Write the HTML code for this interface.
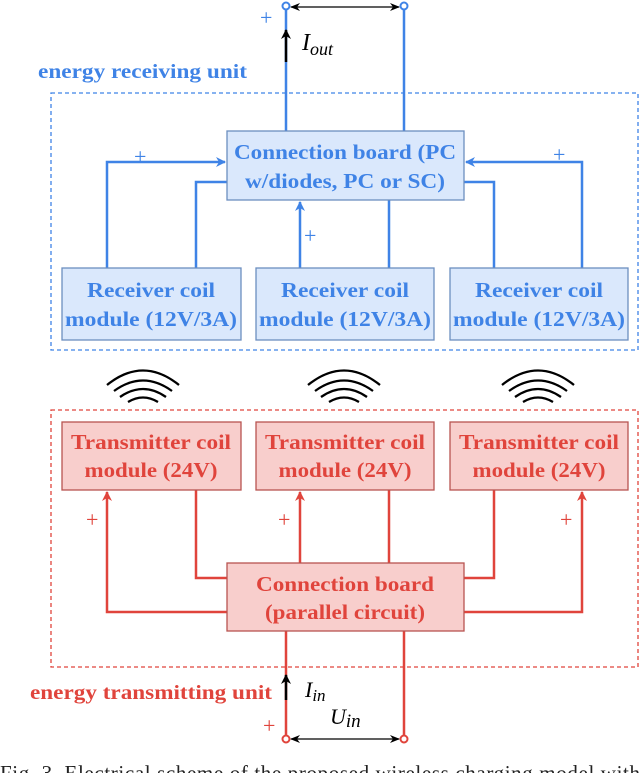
<!DOCTYPE html>
<html><head><meta charset="utf-8"><style>
html,body{margin:0;padding:0;background:#fff;}
body{width:640px;height:773px;overflow:hidden;position:relative;}
svg{position:absolute;left:0;top:0;}
text{font-family:"Liberation Serif",serif;}
</style></head><body>
<svg width="640" height="773" viewBox="0 0 640 773" xmlns="http://www.w3.org/2000/svg">
<defs>
<marker id="ab" markerWidth="10" markerHeight="10" refX="9" refY="5" orient="auto" markerUnits="userSpaceOnUse"><path d="M0,0 L10,5 L0,10 L3,5 z" fill="#3f83e6"/></marker>
<marker id="ar" markerWidth="10" markerHeight="10" refX="9" refY="5" orient="auto" markerUnits="userSpaceOnUse"><path d="M0,0 L10,5 L0,10 L3,5 z" fill="#e0443c"/></marker>
<marker id="ak" markerWidth="10" markerHeight="10" refX="9" refY="5" orient="auto" markerUnits="userSpaceOnUse"><path d="M0,0 L10,5 L0,10 L3,5 z" fill="#000"/></marker>
<marker id="aks" markerWidth="10" markerHeight="10" refX="9" refY="5" orient="auto-start-reverse" markerUnits="userSpaceOnUse"><path d="M0,1 L10,5 L0,9 L3,5 z" fill="#000"/></marker>
</defs>

<rect x="51" y="93" width="587" height="257" fill="none" stroke="#3f83e6" stroke-width="1.3" stroke-dasharray="4,3"/>
<text x="38" y="78" font-size="20" font-weight="bold" fill="#3f83e6" textLength="209" lengthAdjust="spacingAndGlyphs">energy receiving unit</text>
<g stroke="#3f83e6" stroke-width="2.5" fill="none">
<line x1="286" y1="131" x2="286" y2="6"/>
<line x1="404" y1="131" x2="404" y2="6"/>
<polyline points="107,268 107,162 225,162" marker-end="url(#ab)"/>
<polyline points="196,268 196,182 227,182"/>
<line x1="300" y1="268" x2="300" y2="202" marker-end="url(#ab)"/>
<line x1="389" y1="268" x2="389" y2="200"/>
<polyline points="582,268 582,162 466,162" marker-end="url(#ab)"/>
<polyline points="494,268 494,182 464,182"/>
</g>
<circle cx="286" cy="6" r="3.5" fill="#fff" stroke="#3f83e6" stroke-width="2"/>
<circle cx="404" cy="6" r="3.5" fill="#fff" stroke="#3f83e6" stroke-width="2"/>
<line x1="291" y1="7" x2="399" y2="7" stroke="#000" stroke-width="1.3" marker-start="url(#aks)" marker-end="url(#aks)"/>
<line x1="286" y1="62" x2="286" y2="30" stroke="#000" stroke-width="2.5" marker-end="url(#ak)"/>
<g font-size="22" fill="#3f83e6">
<text x="260" y="25">+</text>
<text x="134" y="164">+</text>
<text x="304" y="243">+</text>
<text x="553" y="162">+</text>
</g>
<text x="302" y="50" font-size="24" font-style="italic" fill="#000">I<tspan font-size="18" dy="5">out</tspan></text>

<g fill="#dae8fc" stroke="#6c8ebf" stroke-width="1.3">
<rect x="227" y="131" width="237" height="69"/>
<rect x="62" y="268" width="179" height="72"/>
<rect x="256" y="268" width="178" height="72"/>
<rect x="450" y="268" width="178" height="72"/>
</g>
<g font-size="21" font-weight="bold" fill="#3f83e6" text-anchor="middle" lengthAdjust="spacingAndGlyphs">
<text x="345" y="159" textLength="222" lengthAdjust="spacingAndGlyphs">Connection board (PC</text>
<text x="345" y="188" textLength="200" lengthAdjust="spacingAndGlyphs">w/diodes, PC or SC)</text>
<text x="151" y="297" textLength="128" lengthAdjust="spacingAndGlyphs">Receiver coil</text>
<text x="151" y="326" textLength="172" lengthAdjust="spacingAndGlyphs">module (12V/3A)</text>
<text x="345" y="297" textLength="128" lengthAdjust="spacingAndGlyphs">Receiver coil</text>
<text x="345" y="326" textLength="172" lengthAdjust="spacingAndGlyphs">module (12V/3A)</text>
<text x="539" y="297" textLength="128" lengthAdjust="spacingAndGlyphs">Receiver coil</text>
<text x="539" y="326" textLength="172" lengthAdjust="spacingAndGlyphs">module (12V/3A)</text>
</g>

<g stroke="#000" stroke-width="2.3" fill="none">
<g id="w" transform="translate(143,0)">
<path d="M-36,385 Q0,356 36,385"/>
<path d="M-29,391 Q0,370 29,391"/>
<path d="M-23,397 Q0,381 23,397"/>
<path d="M-15,402 Q0,393 15,402"/>
</g>
<use href="#w" transform="translate(201,0)"/>
<use href="#w" transform="translate(395,0)"/>
</g>

<rect x="51" y="410" width="587" height="257" fill="none" stroke="#e0443c" stroke-width="1.3" stroke-dasharray="4,3"/>
<g stroke="#e0443c" stroke-width="2.5" fill="none">
<polyline points="227,612 107,612 107,492" marker-end="url(#ar)"/>
<polyline points="196,490 196,578 227,578"/>
<line x1="300" y1="563" x2="300" y2="492" marker-end="url(#ar)"/>
<line x1="389" y1="563" x2="389" y2="490"/>
<polyline points="494,490 494,578 464,578"/>
<polyline points="464,612 582,612 582,492" marker-end="url(#ar)"/>
<line x1="286" y1="631" x2="286" y2="739"/>
<line x1="404" y1="631" x2="404" y2="739"/>
</g>
<g fill="#f8cecc" stroke="#b85450" stroke-width="1.3">
<rect x="62" y="422" width="179" height="68"/>
<rect x="256" y="422" width="178" height="68"/>
<rect x="450" y="422" width="178" height="68"/>
<rect x="227" y="563" width="237" height="68"/>
</g>
<g font-size="21" font-weight="bold" fill="#e0443c" text-anchor="middle">
<text x="151" y="449" textLength="160" lengthAdjust="spacingAndGlyphs">Transmitter coil</text>
<text x="151" y="477" textLength="133" lengthAdjust="spacingAndGlyphs">module (24V)</text>
<text x="345" y="449" textLength="160" lengthAdjust="spacingAndGlyphs">Transmitter coil</text>
<text x="345" y="477" textLength="133" lengthAdjust="spacingAndGlyphs">module (24V)</text>
<text x="539" y="449" textLength="160" lengthAdjust="spacingAndGlyphs">Transmitter coil</text>
<text x="539" y="477" textLength="133" lengthAdjust="spacingAndGlyphs">module (24V)</text>
<text x="345" y="591" textLength="178" lengthAdjust="spacingAndGlyphs">Connection board</text>
<text x="345" y="619" textLength="160" lengthAdjust="spacingAndGlyphs">(parallel circuit)</text>
</g>
<g font-size="22" fill="#e0443c">
<text x="86" y="527">+</text>
<text x="278" y="527">+</text>
<text x="560" y="527">+</text>
<text x="263" y="733">+</text>
</g>
<text x="30" y="699" font-size="20" font-weight="bold" fill="#e0443c" textLength="242" lengthAdjust="spacingAndGlyphs">energy transmitting unit</text>
<line x1="286" y1="700" x2="286" y2="675" stroke="#000" stroke-width="2.5" marker-end="url(#ak)"/>
<text x="305" y="697" font-size="22" font-style="italic" fill="#000">I<tspan font-size="17" dy="4">in</tspan></text>
<text x="330" y="724" font-size="22" font-style="italic" fill="#000">U<tspan font-size="19" dy="3">in</tspan></text>
<circle cx="286" cy="739" r="3.5" fill="#fff" stroke="#e0443c" stroke-width="2"/>
<circle cx="404" cy="739" r="3.5" fill="#fff" stroke="#e0443c" stroke-width="2"/>
<line x1="291" y1="739" x2="399" y2="739" stroke="#000" stroke-width="1.3" marker-start="url(#aks)" marker-end="url(#aks)"/>

<text x="0" y="780" font-size="21" fill="#222" textLength="640" lengthAdjust="spacing">Fig. 3.  Electrical scheme of the proposed wireless charging model with</text>
</svg>
</body></html>
